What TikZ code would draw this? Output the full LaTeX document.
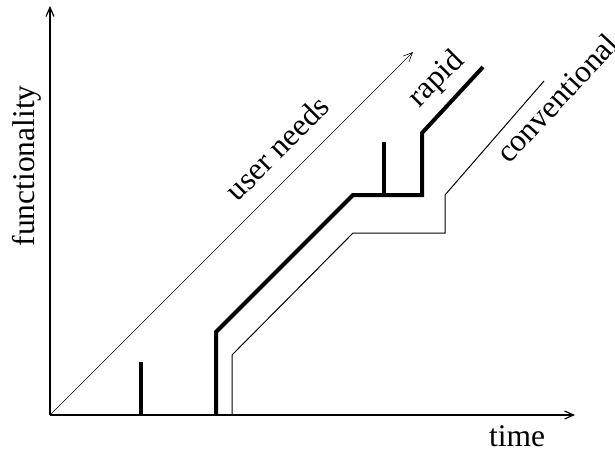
\documentclass[tikz,border=0pt]{standalone}
\usepackage{fontspec}
\setmainfont{Liberation Serif}
\usepackage{tikz}
\usetikzlibrary{calc}
\usetikzlibrary{positioning}
\usetikzlibrary{arrows.meta}

\begin{document}
\begin{tikzpicture}[x=1pt, y=-1pt,
        axis/.style={line width=1.2pt, -{Straight Barb[length=9pt, width=8pt]}},
        needs/.style={line width=0.6pt, -{Straight Barb[length=9pt, width=8pt]}},
        rapidline/.style={line width=4pt, line join=miter},
        convline/.style={line width=1pt, line join=miter},
        lbl/.style={font=\fontsize{31.5}{34}\selectfont, inner sep=0pt}]
            \useasboundingbox (0, 0) rectangle (615, 449);
            % axes
            \coordinate (O) at (50, 415);
            \coordinate (Y) at (50, 6);
            \coordinate (X) at (575, 415);
            \draw[axis] (O) -- (Y);
            \draw[axis] (O) -- (X);
            \node[lbl, rotate=90] (func) at (27, 166) {functionality};
            \node[lbl] (time) at (517, 436) {time};
            % user needs
            \coordinate (U) at (413, 52);
            \draw[needs] (O) -- (U);
            \node[lbl, rotate=45] (needslbl) at (277, 148) {user needs};
            % rapid
            \coordinate (R0) at (216, 415);
            \coordinate (R1) at (216, 332);
            \coordinate (R2) at (353, 195);
            \coordinate (R3) at (422, 195);
            \coordinate (R4) at (422, 133);
            \coordinate (R5) at (483, 67);
            \draw[rapidline] (R0) -- (R1) -- (R2) -- (R3) -- (R4) -- (R5);
            \foreach \x/\lo/\hi in {141/415/362, 384/195/142}
            {
                \draw[rapidline] (\x, \lo) -- (\x, \hi);
            }
            \node[lbl, rotate=45] (rapidlbl) at (437, 80) {rapid};
            % conventional
            \coordinate (C0) at (232, 415);
            \coordinate (C1) at (232, 355);
            \coordinate (C2) at (353, 233);
            \coordinate (C3) at (445, 233);
            \coordinate (C4) at (445, 195);
            \coordinate (C5) at (544, 81);
            \draw[convline] (C0) -- (C1) -- (C2) -- (C3) -- (C4) -- (C5);
            \node[lbl, rotate=47] (convlbl) at (557, 98) {conventional};
        \end{tikzpicture}
\end{document}
